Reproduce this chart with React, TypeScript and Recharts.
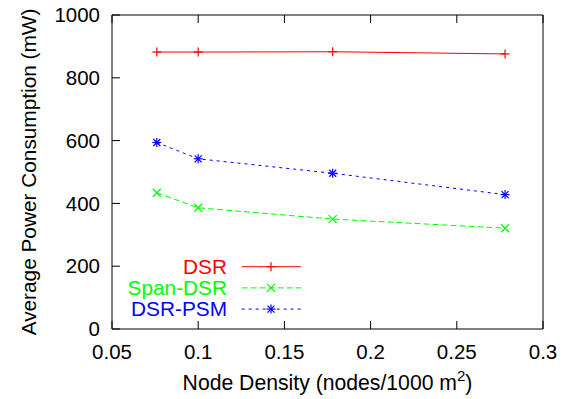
import React from "react";
import { LineChart, Line, XAxis, YAxis, Legend } from "recharts";

const densities = [0.076, 0.1, 0.178, 0.278];
const dsr = [882, 882, 883, 876];
const spanDsr = [434, 386, 350, 321];
const dsrPsm = [594, 542, 496, 428];
const xTicks = [0.05, 0.1, 0.15, 0.2, 0.25, 0.3];
const yTicks = [0, 200, 400, 600, 800, 1000];
const seriesNames = ["DSR", "Span-DSR", "DSR-PSM"];
const seriesColors = ["#ff0000", "#00ff00", "#0000ff"];
const seriesDash = ["", "6 3", "3 4"];
const seriesMarkers = ["plus", "cross", "star"];

const data = densities.map((d, i) => ({
  x: d,
  dsr: dsr[i],
  span: spanDsr[i],
  psm: dsrPsm[i],
}));
const keys = ["dsr", "span", "psm"];

const FONT = "'Liberation Sans', Arial, Helvetica, sans-serif";

function Marker({ cx, cy, kind, color }: any) {
  if (cx == null || cy == null) return null;
  const r = 4.5;
  const c = 4;
  const parts: any[] = [];
  if (kind === "plus" || kind === "star") {
    parts.push(<line key="h" x1={cx - r} y1={cy} x2={cx + r} y2={cy} />);
    parts.push(<line key="v" x1={cx} y1={cy - r} x2={cx} y2={cy + r} />);
  }
  if (kind === "cross" || kind === "star") {
    const k = kind === "star" ? 3.5 : c;
    parts.push(<line key="d1" x1={cx - k} y1={cy - k} x2={cx + k} y2={cy + k} />);
    parts.push(<line key="d2" x1={cx - k} y1={cy + k} x2={cx + k} y2={cy - k} />);
  }
  return (
    <g stroke={color} strokeWidth={1.2} fill="none">
      {parts}
    </g>
  );
}

function LegendContent() {
  return (
    <svg width={220} height={75} style={{ overflow: "visible" }}>
      {seriesNames.map((name, i) => {
        const y = 16.7 + i * 21.2;
        return (
          <g key={name}>
            <text
              x={127}
              y={y + 7.3}
              textAnchor="end"
              fontFamily={FONT}
              fontSize={20.8}
              fill={seriesColors[i]}
            >
              {name}
            </text>
            <line
              x1={141.7}
              x2={201}
              y1={y}
              y2={y}
              stroke={seriesColors[i]}
              strokeWidth={1}
              strokeDasharray={seriesDash[i] || undefined}
            />
            <Marker cx={171} cy={y} kind={seriesMarkers[i]} color={seriesColors[i]} />
          </g>
        );
      })}
    </svg>
  );
}

const emptyTick = () => <g />;

export default function App() {
  return (
    <div style={{ position: "absolute", left: 0, top: 0, background: "#fff" }}>
      <LineChart
        width={566}
        height={399}
        data={data}
        margin={{ top: 14, right: 22, left: 0, bottom: 0 }}
        style={{ fontFamily: FONT }}
      >
        <XAxis
          dataKey="x"
          type="number"
          domain={[0.05, 0.3]}
          ticks={xTicks}
          allowDataOverflow
          height={70}
          tickSize={-8}
          tickMargin={23}
          stroke="#000"
          tick={{ fill: "#000", fontSize: 20.5, fontFamily: FONT }}
          label={{
            content: ({ viewBox }: any) => (
              <text
                x={viewBox.x + viewBox.width / 2}
                y={viewBox.y + 61}
                textAnchor="middle"
                fontFamily={FONT}
                fontSize={21.2}
                fill="#000"
              >
                Node Density (nodes/1000 m
                <tspan dy={-9} fontSize={15}>2</tspan>
                <tspan dy={9}>)</tspan>
              </text>
            ),
          }}
        />
        <XAxis
          xAxisId="top"
          dataKey="x"
          type="number"
          orientation="top"
          domain={[0.05, 0.3]}
          ticks={xTicks}
          allowDataOverflow
          height={1}
          tickSize={-8}
          stroke="#000"
          tick={emptyTick}
        />
        <YAxis
          type="number"
          domain={[0, 1000]}
          ticks={yTicks}
          width={112}
          tickSize={-8}
          tickMargin={20}
          stroke="#000"
          tick={{ fill: "#000", fontSize: 20.5, fontFamily: FONT }}
          label={{
            content: ({ viewBox }: any) => {
              const cx = 36;
              const cy = viewBox.y + viewBox.height / 2;
              return (
                <text
                  x={cx}
                  y={cy}
                  transform={`rotate(-90, ${cx}, ${cy})`}
                  textAnchor="middle"
                  fontFamily={FONT}
                  fontSize={20.8}
                  fill="#000"
                >
                  Average Power Consumption (mW)
                </text>
              );
            },
          }}
        />
        <YAxis
          yAxisId="right"
          orientation="right"
          type="number"
          domain={[0, 1000]}
          ticks={yTicks}
          width={1}
          tickSize={-8}
          stroke="#000"
          tick={emptyTick}
        />
        {keys.map((k, i) => (
          <Line
            key={k}
            dataKey={k}
            name={seriesNames[i]}
            stroke={seriesColors[i]}
            strokeWidth={1}
            strokeDasharray={seriesDash[i] || undefined}
            isAnimationActive={false}
            dot={(p: any) => (
              <Marker key={`${k}-${p.index}`} cx={p.cx} cy={p.cy} kind={seriesMarkers[i]} color={seriesColors[i]} />
            )}
            activeDot={false}
          />
        ))}
        <Legend
          layout="vertical"
          align="center"
          verticalAlign="middle"
          content={() => <LegendContent />}
          wrapperStyle={{ left: 100, top: 250, width: 220, height: 75 }}
        />
      </LineChart>
    </div>
  );
}
